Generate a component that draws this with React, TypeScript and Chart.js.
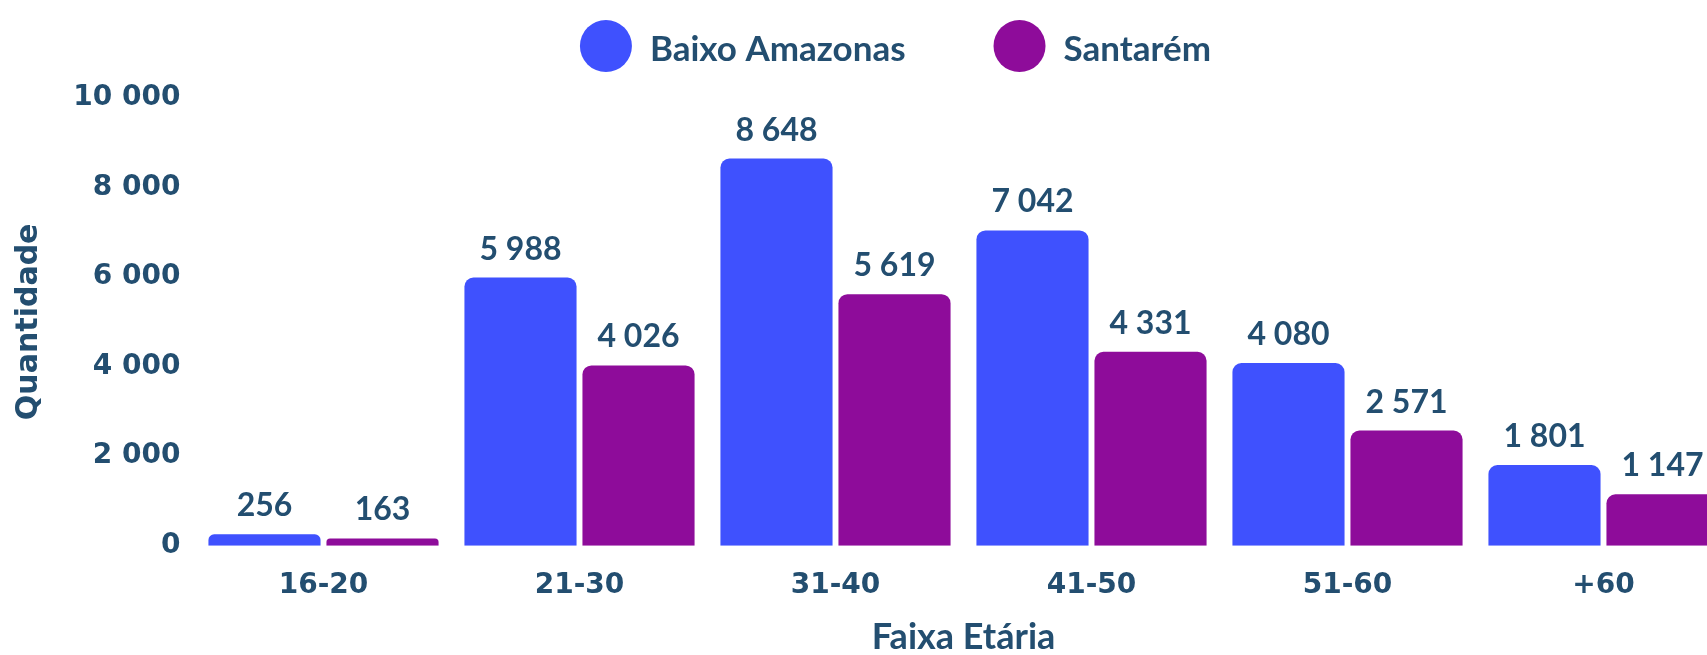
import React, { useEffect, useRef } from 'react';
import { Chart, registerables } from 'chart.js';

Chart.register(...registerables);

const categories = ['16-20', '21-30', '31-40', '41-50', '51-60', '+60'];
const seriesNames = ['Baixo Amazonas', 'Santarém'];
const baixoAmazonas = [256, 5988, 8648, 7042, 4080, 1801];
const santarem = [163, 4026, 5619, 4331, 2571, 1147];
const yTicks = [0, 2000, 4000, 6000, 8000, 10000];

const BLUE = '#3F51FE';
const PURPLE = '#8E0C9A';
const TEXT = '#234E70';

const fmt = (n: number) => String(n).replace(/\B(?=(\d{3})+(?!\d))/g, ' ');

const legendPlugin = {
  id: 'customLegend',
  afterDraw(chart: any) {
    const ctx = chart.ctx;
    ctx.save();
    ctx.font = 'bold 35px Lato';
    const R = 26;
    const gapText = 18;
    const gapItem = 88;
    const items = chart.data.datasets.map((ds: any) => ({
      label: ds.label,
      color: ds.backgroundColor,
      w: ctx.measureText(ds.label).width,
    }));
    const total =
      items.reduce((s: number, it: any) => s + 2 * R + gapText + it.w, 0) +
      gapItem * (items.length - 1);
    let x = chart.width / 2 - total / 2;
    const cy = 38;
    items.forEach((it: any) => {
      ctx.fillStyle = it.color;
      ctx.beginPath();
      ctx.arc(x + R, cy, R, 0, Math.PI * 2);
      ctx.fill();
      ctx.fillStyle = TEXT;
      ctx.textAlign = 'left';
      ctx.textBaseline = 'alphabetic';
      ctx.fillText(it.label, x + 2 * R + gapText, 53);
      x += 2 * R + gapText + it.w + gapItem;
    });
    ctx.restore();
  },
};

const valueLabelPlugin = {
  id: 'valueLabels',
  afterDatasetsDraw(chart: any) {
    const ctx = chart.ctx;
    ctx.save();
    ctx.font = 'bold 32px Lato';
    ctx.fillStyle = TEXT;
    ctx.textAlign = 'center';
    ctx.textBaseline = 'alphabetic';
    chart.data.datasets.forEach((ds: any, i: number) => {
      const meta = chart.getDatasetMeta(i);
      meta.data.forEach((el: any, j: number) => {
        ctx.fillText(fmt(ds.data[j]), el.x, el.y - 18);
      });
    });
    ctx.restore();
  },
};

export default function App() {
  const canvasRef = useRef<HTMLCanvasElement | null>(null);

  useEffect(() => {
    if (!canvasRef.current) return;
    const chart = new Chart(canvasRef.current, {
      type: 'bar',
      data: {
        labels: categories,
        datasets: [
          {
            label: seriesNames[0],
            data: baixoAmazonas,
            backgroundColor: BLUE,
            borderRadius: 9,
            borderSkipped: 'start',
            categoryPercentage: 0.922,
            barPercentage: 0.95,
          },
          {
            label: seriesNames[1],
            data: santarem,
            backgroundColor: PURPLE,
            borderRadius: 9,
            borderSkipped: 'start',
            categoryPercentage: 0.922,
            barPercentage: 0.95,
          },
        ],
      },
      options: {
        animation: false,
        responsive: true,
        maintainAspectRatio: false,
        layout: { padding: { top: 90, right: 51.5, bottom: 0, left: 0 } },
        plugins: {
          legend: { display: false },
          tooltip: { enabled: false },
        },
        scales: {
          x: {
            grid: { display: false, drawTicks: false },
            border: { display: false },
            ticks: {
              color: TEXT,
              padding: 23,
              font: { family: 'DejaVu Sans', weight: 'bold', size: 28 },
            },
            title: {
              display: true,
              text: 'Faixa Etária',
              color: TEXT,
              padding: { top: 0, bottom: 0 },
              font: { family: 'Lato', weight: 'bold', size: 36 },
            },
            afterFit: (scale: any) => {
              scale.height = 113.3;
            },
          },
          y: {
            min: 0,
            max: 10000,
            grid: { display: false, drawTicks: false },
            border: { display: false },
            afterBuildTicks: (scale: any) => {
              scale.ticks = yTicks.map((v) => ({ value: v }));
            },
            ticks: {
              color: TEXT,
              padding: 15,
              font: { family: 'DejaVu Sans', weight: 'bold', size: 28 },
              callback: (v: any) => fmt(Number(v)),
            },
            title: {
              display: true,
              text: 'Quantidade',
              color: TEXT,
              padding: { top: 3, bottom: 0 },
              font: { family: 'DejaVu Sans', weight: 'bold', size: 30 },
            },
            afterFit: (scale: any) => {
              scale.width = 187.5;
            },
          },
        },
      },
      plugins: [valueLabelPlugin, legendPlugin],
    } as any);
    return () => chart.destroy();
  }, []);

  return (
    <div
      style={{
        position: 'fixed',
        left: 0,
        top: 0,
        width: '100vw',
        height: '100vh',
        overflow: 'hidden',
        background: '#fff',
      }}
    >
      <div style={{ position: 'absolute', left: 8, top: 8, width: 1775, height: 651 }}>
        <canvas ref={canvasRef} />
      </div>
    </div>
  );
}
